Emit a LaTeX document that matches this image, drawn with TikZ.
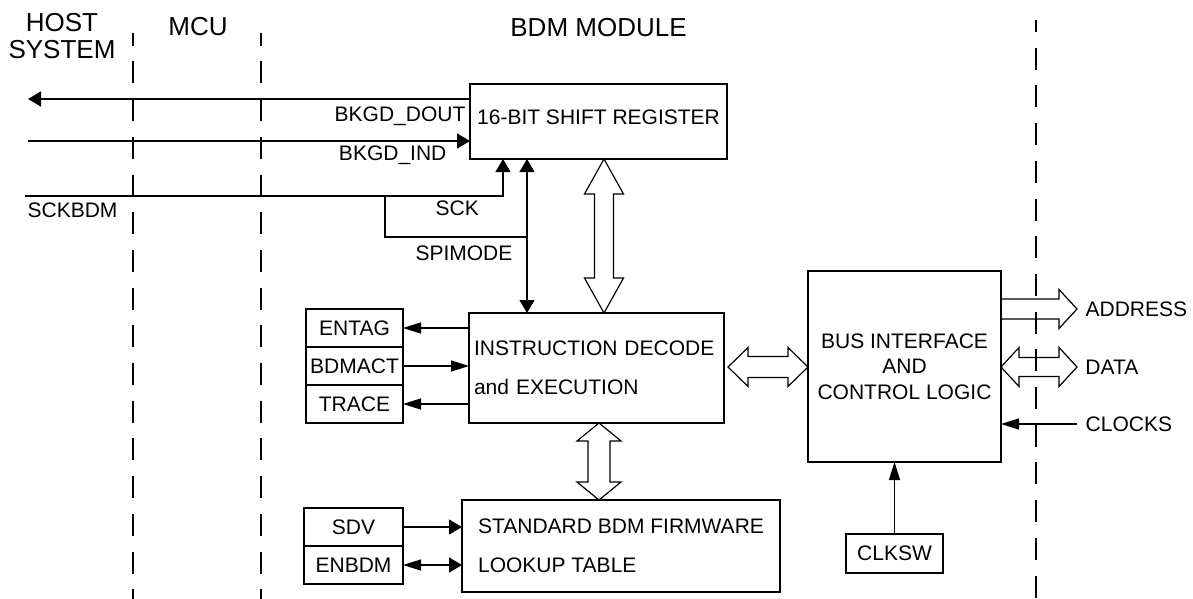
\documentclass[tikz,border=0pt]{standalone}
\usepackage{fontspec}
\setmainfont{Liberation Sans}
\usetikzlibrary{arrows.meta,positioning,calc}

% hollow bus arrows: tip, tip, head half-width, shaft half-width, head length
\newcommand{\dbusv}[5]{%
  \draw[bus] (#1) -- ++(#3,#5) -- ++(#4-#3,0) -- ($(#2)+(#4,-#5)$) -- ++(#3-#4,0)
    -- (#2) -- ++(-#3,-#5) -- ++(#3-#4,0) -- ($(#1)+(-#4,#5)$) -- ++(#4-#3,0) -- cycle;}
\newcommand{\dbush}[5]{%
  \draw[bus] (#1) -- ++(#5,-#3) -- ++(0,#3-#4) -- ($(#2)+(-#5,-#4)$) -- ++(0,#4-#3)
    -- (#2) -- ++(-#5,#3) -- ++(0,#4-#3) -- ($(#1)+(#5,#4)$) -- ++(0,#3-#4) -- cycle;}

\begin{document}
\begin{tikzpicture}[x=0.5pt,y=-0.5pt,font=\fontsize{10.5}{12.6}\selectfont,
   blk/.style={draw,line width=1.35pt,inner sep=0pt,outer sep=0pt},
   sig/.style={line width=0.65pt},
   bus/.style={line width=0.6pt,line join=miter},
   sep/.style={line width=0.65pt,dash pattern=on 11pt off 7.85pt},
   lbl/.style={inner sep=0pt},
   hd/.style={inner sep=0pt,font=\fontsize{13}{13.5}\selectfont},
   sml/.tip={Triangle[length=9pt,width=5.5pt]},
   stb/.tip={Triangle[length=6.5pt,width=7.5pt]}]
  \useasboundingbox (0,0) rectangle (1193,599);

  % region borders
  \foreach \xx in {133,261}
    \draw[sep,dash phase=4.65pt] (\xx,33) -- (\xx,599);
  \draw[sep,dash phase=5pt] (1036,20) -- (1036,599);

  \node[hd,align=center] (host) at (62,36) {HOST\\SYSTEM};
  \node[hd] (mcu) at (198,27) {MCU};
  \node[hd] (bdm) at (598.5,27.5) {BDM MODULE};

  % blocks
  \node[blk,minimum width=128.5pt,minimum height=37.5pt,text height=7.5pt,text depth=4.5pt]
    (shift) at (598.5,121.5) {16-BIT SHIFT REGISTER};
  \node[blk,minimum width=127.5pt,minimum height=55pt,text width=122.5pt,inner xsep=2.5pt,
    align=left,font=\fontsize{10.5}{19.5}\selectfont]
    (instr) at (596.5,368) {INSTRUCTION DECODE\\and EXECUTION};
  \node[blk,minimum width=159pt,minimum height=46pt,align=left,
    font=\fontsize{10.5}{19.5}\selectfont]
    (firm) at (621,546) {STANDARD BDM FIRMWARE\\LOOKUP TABLE};
  \node[blk,minimum width=96.5pt,minimum height=95.5pt,align=center,
    font=\fontsize{10.5}{12.75}\selectfont]
    (bif) at (904.5,366.5) {BUS INTERFACE\\AND\\CONTROL LOGIC};

  \node[blk,minimum width=48.5pt,minimum height=19pt] (entag) at (354.5,328) {ENTAG};
  \node[blk,minimum width=48.5pt,minimum height=19pt,below=0pt of entag] (bdmact) {BDMACT};
  \node[blk,minimum width=48.5pt,minimum height=19pt,below=0pt of bdmact] (trace) {TRACE};
  \node[blk,minimum width=49.5pt,minimum height=19pt] (sdv) at (353.5,527) {SDV};
  \node[blk,minimum width=49.5pt,minimum height=19pt,below=0pt of sdv] (enbdm) {ENBDM};
  \node[blk,minimum width=48.5pt,minimum height=19.5pt] (clksw) at (894.5,553.5) {CLKSW};

  % serial interface
  \coordinate (hostout) at (28,99);
  \coordinate (hostin) at (28,141);
  \coordinate (sckin) at (25,196);
  \coordinate (sckbr) at (385,196);
  \coordinate (sck) at (shift.south -| 503,0);
  \coordinate (spi) at (shift.south -| 527,0);
  \coordinate (spimid) at (527,237);
  \draw[sig,-stb] (shift.west |- hostout) -- (hostout)
    node[lbl,pos=0,anchor=base east,xshift=-2pt,yshift=-11pt] (ldout) {BKGD\_DOUT};
  \draw[sig,-stb] (hostin) -- (hostin -| shift.west)
    node[lbl,pos=1,anchor=base east,xshift=-11.5pt,yshift=-10pt] (lind) {BKGD\_IND};
  \draw[sig,-stb] (sckin)
    node[lbl,anchor=base west,xshift=1pt,yshift=-10.5pt] (lsckbdm) {SCKBDM}
    -- (sckbr) node[lbl,anchor=base west,xshift=25pt,yshift=-9.5pt] (lsck) {SCK} -| (sck);
  \draw[sig] (sckbr) |- (spimid)
    node[lbl,anchor=base east,xshift=-7pt,yshift=-11.5pt] (lspi) {SPIMODE};
  \draw[sig,stb-stb] (spi) -- (spi |- instr.north);

  % buses
  \coordinate (vb1) at (shift.south -| 604,0);
  \dbusv{vb1}{vb1 |- instr.north}{19.5}{9.5}{35}
  \coordinate (vb2) at (instr.south -| 599,0);
  \dbusv{vb2}{vb2 |- firm.north}{22}{11}{18}
  \coordinate (hb1) at ($(instr.east)+(4,-1)$);
  \dbush{hb1}{hb1 -| bif.west}{19.5}{10.5}{20}

  \coordinate (addr) at (1077,309);
  \draw[bus] ($(bif.east |- addr)+(0,-10)$) -- ($(addr)+(-18,-10)$) -- ++(0,-9.5)
    -- (addr) node[lbl,anchor=west,xshift=4pt] (laddr) {ADDRESS}
    -- ++(-18,19.5) -- ++(0,-9.5) -- ($(bif.east |- addr)+(0,10)$);
  \coordinate (dat) at (1077,367);
  \dbush{bif.east |- dat}{dat}{19.5}{9.5}{18}
  \node[lbl,anchor=west] (ldata) at ($(dat)+(8,0)$) {DATA};

  % control signals
  \coordinate (clk) at (1077,424);
  \draw[sig,-sml] (clk) node[lbl,anchor=west,xshift=4pt] (lclk) {CLOCKS} -- (clk -| bif.east);
  \draw[sig,-sml] (clksw.north) -- (clksw.north |- bif.south);
  \draw[sig,-sml] (entag.east -| instr.west) -- (entag.east);
  \draw[sig,-sml] (bdmact.east) -- (bdmact.east -| instr.west);
  \draw[sig,-sml] (trace.east -| instr.west) -- (trace.east);
  \draw[sig,-stb] (sdv.east) -- (sdv.east -| firm.west);
  \draw[sig,sml-stb] (enbdm.east) -- (enbdm.east -| firm.west);
\end{tikzpicture}
\end{document}
